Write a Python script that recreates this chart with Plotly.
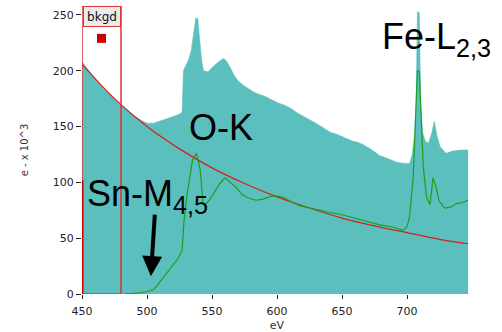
import plotly.graph_objects as go

# ---- data ----
spec_ev = [450, 455, 460, 465, 470, 475, 480, 485, 490, 495, 500, 505, 510, 515, 520, 525, 527,
           528, 530, 532, 534, 536, 537.5, 539, 540.5, 542, 543.5, 547, 550, 553, 556, 559, 561,
           564, 567, 570, 574, 578, 582, 586, 591, 596, 601, 606, 611, 616, 621, 626, 630, 634,
           641, 646, 650, 654, 658, 662, 666, 672, 679, 686, 692, 698, 702, 704, 706, 707, 708,
           709.5, 710.5, 712, 714, 716.5, 719, 721, 723, 725.5, 730, 735, 741, 747]
spec_counts = [208, 200, 193, 186, 180, 175, 169, 165, 160, 156, 153, 153, 155, 157, 159, 161, 163,
               200, 205, 210, 218, 235, 247, 247, 228, 210, 200, 199, 203, 206, 209, 211, 209,
               203, 196, 191, 187, 184, 181, 179, 177, 174, 171, 169, 166, 162, 159, 156, 153, 150,
               145, 143, 141, 139, 137, 136, 134, 130, 124, 121, 118, 117, 117, 125, 145, 170, 253,
               252, 171, 145, 137, 135, 144, 155, 142, 132, 126, 128, 129, 129]

bkgd_ev = [450, 475, 500, 525, 550, 575, 600, 625, 650, 675, 700, 725, 747]
bkgd_counts = [206, 175, 150, 130, 113, 99, 87, 77, 68, 61, 55, 49, 45]

sig_ev = [482, 490, 495, 500, 505, 508, 512, 516, 520, 524, 527, 528.5, 531, 535, 538, 541, 543,
          545, 548, 552, 556, 560, 564, 569, 573, 578, 584, 589, 594, 600, 606, 612, 618, 625,
          633, 641, 650, 666, 679, 689, 697, 700, 702, 704.8, 707, 708, 709.5, 710.5, 712.5, 715,
          717.7, 720, 722.3, 724.8, 729, 734, 738, 743, 747]
sig_counts = [0, 0.5, 1, 2, 4, 8, 14, 20, 25, 32, 39, 66, 90, 120, 126, 111, 82,
              80, 84, 92, 99, 104, 100, 95, 89, 86, 84, 85, 87, 88, 86, 82, 79, 77,
              75, 73, 71, 66, 62, 60, 57, 60, 69, 105, 180, 200, 199, 168, 114, 87,
              80, 104, 96, 83, 77, 78, 81, 82, 84]

x_ticks = [450, 500, 550, 600, 650, 700]
y_ticks = [0, 50, 100, 150, 200, 250]
bkgd_window = [450, 480]

CYAN = "#5bbfbe"
RED = "#d42020"
GREEN = "#1e9e1e"

fig = go.Figure()
fig.add_trace(go.Scatter(x=spec_ev, y=spec_counts, mode="lines", fill="tozeroy",
                         fillcolor=CYAN, line=dict(color=CYAN, width=0.5), hoverinfo="skip"))
fig.add_trace(go.Scatter(x=bkgd_ev, y=bkgd_counts, mode="lines",
                         line=dict(color=RED, width=1.2, shape="spline"), hoverinfo="skip"))
fig.add_trace(go.Scatter(x=sig_ev, y=sig_counts, mode="lines",
                         line=dict(color=GREEN, width=1.2), hoverinfo="skip"))
# red marker of the background window
fig.add_trace(go.Scatter(x=[sum(bkgd_window) / 2], y=[229], mode="markers",
                         marker=dict(symbol="square", size=9, color="#cc0000"), hoverinfo="skip"))

# background window rectangle
fig.add_shape(type="rect", xref="x", yref="y", x0=bkgd_window[0], x1=bkgd_window[1],
              y0=0, y1=258, line=dict(color="#dd3535", width=1.5), layer="above")
fig.add_shape(type="line", xref="x", yref="y", x0=bkgd_window[0], x1=bkgd_window[0],
              y0=0, y1=102, line=dict(color="#cc0000", width=3), layer="above")

big = dict(family="Liberation Sans, Arial, sans-serif", size=36, color="black")
fig.add_annotation(x=452.3, y=88, text="Sn-M<sub>4,5</sub>", xanchor="left", yanchor="middle",
                   showarrow=False, font=big)
fig.add_annotation(x=530.8, y=149, text="O-K", xanchor="left", yanchor="middle",
                   showarrow=False, font=big)
fig.add_annotation(x=679.5, y=228, text="Fe-L<sub>2,3</sub>", xanchor="left", yanchor="middle",
                   showarrow=False, font=big)
fig.add_annotation(x=503, y=16, ax=4, ay=-63, text="", showarrow=True, arrowhead=2,
                   arrowwidth=4, arrowsize=1, arrowcolor="black")
fig.add_annotation(x=sum(bkgd_window) / 2, y=248.5, text="bkgd", showarrow=False,
                   xanchor="center", yanchor="middle", bgcolor="#ebebeb", bordercolor="#dd3535",
                   borderwidth=1, borderpad=0, width=36, height=19,
                   font=dict(family="DejaVu Sans, Verdana, sans-serif", size=12, color="#111"))

tickfont = dict(family="DejaVu Sans, Verdana, sans-serif", size=11, color="#222")
fig.update_layout(
    width=502, height=332,
    margin=dict(l=82, r=30, t=6, b=38),
    plot_bgcolor="white", paper_bgcolor="white",
    showlegend=False,
    xaxis=dict(range=[450, 750], tickvals=x_ticks, ticks="outside", ticklen=4,
               tickcolor="#222", showgrid=False, zeroline=False, showline=False,
               tickfont=tickfont, ticklabelstandoff=3, automargin=False,
               title=dict(text="eV", font=dict(family="DejaVu Sans, Verdana, sans-serif",
                                               size=11, color="#333"), standoff=4)),
    yaxis=dict(range=[0, 258], tickvals=y_ticks, ticks="outside", ticklen=5,
               tickcolor="#222", showgrid=False, zeroline=False, showline=False,
               tickfont=tickfont, automargin=False,
               title=dict(text="e - x 10^3", font=dict(family="DejaVu Sans, Verdana, sans-serif",
                                                      size=10, color="#333"), standoff=22)),
)

fig.write_html("out.html")
